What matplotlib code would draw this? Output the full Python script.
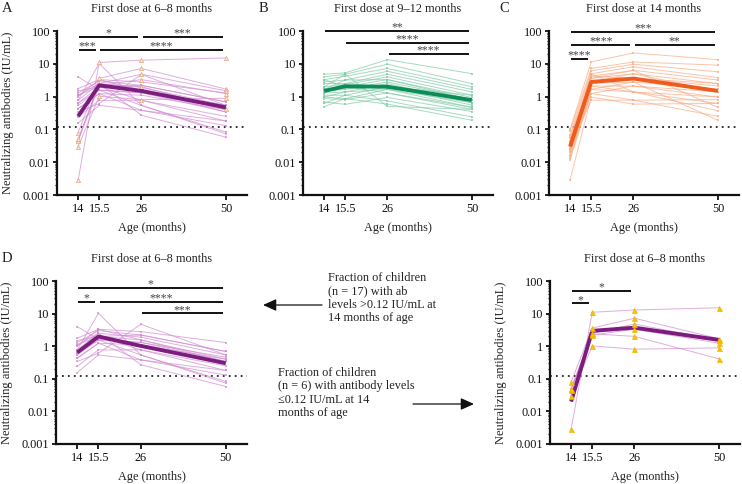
import numpy as np
import matplotlib
matplotlib.use("Agg")
import matplotlib.pyplot as plt
from matplotlib.patches import FancyArrowPatch

plt.rcParams['font.family'] = ['Liberation Serif', 'DejaVu Serif']
plt.rcParams['text.color'] = '#222222'
plt.rcParams['axes.labelcolor'] = '#222222'
plt.rcParams['xtick.color'] = '#111111'
plt.rcParams['ytick.color'] = '#111111'

# ---------------- data ----------------
timepoints = ["14", "15.5", "26", "50"]
time_pos = [0, 1, 3, 7]

# children with first dose at 6-8 months, ab > 0.12 IU/mL at 14 months (n=17)
d_children = [
    [4.0, 1.6, 1.3, 0.46],
    [1.76, 3.3, 2.8, 1.29],
    [0.77, 10.2, 0.54, 0.083],
    [1.29, 3.0, 2.2, 0.69],
    [1.10, 2.5, 1.89, 0.54],
    [0.64, 2.0, 1.56, 0.40],
    [0.54, 1.56, 1.32, 0.34],
    [0.43, 1.23, 1.10, 0.40],
    [0.34, 0.61, 4.7, 0.54],
    [0.24, 0.77, 0.77, 0.18],
    [0.155, 0.54, 0.38, 0.13],
    [1.49, 2.0, 0.77, 0.25],
    [0.64, 1.56, 0.54, 0.074],
    [0.77, 2.5, 0.27, 0.058],
    [1.0, 3.3, 1.56, 0.34],
    [0.43, 1.23, 0.38, 0.18],
    [1.1, 2.0, 2.2, 0.69],
]
# children with first dose at 6-8 months, ab <= 0.12 IU/mL at 14 months (n=6)
e_children = [
    [0.0028, 11.0, 12.9, 15.1],
    [0.079, 3.6, 7.2, 1.7],
    [0.049, 2.5, 4.8, 1.5],
    [0.044, 2.2, 3.3, 1.24],
    [0.030, 1.02, 0.81, 0.89],
    [0.050, 2.4, 2.0, 0.41],
]
# first dose at 9-12 months
b_children = [
    [4.8, 5.3, 13.4, 5.0],
    [4.0, 4.8, 9.7, 2.5],
    [3.3, 4.2, 7.2, 2.0],
    [2.8, 3.2, 5.9, 1.66],
    [2.5, 2.5, 4.8, 1.39],
    [2.0, 2.3, 4.0, 1.10],
    [1.66, 2.0, 3.3, 0.94],
    [1.49, 1.66, 2.8, 0.81],
    [1.29, 1.39, 2.5, 0.65],
    [1.10, 1.10, 2.0, 0.55],
    [0.97, 0.87, 1.66, 0.47],
    [0.87, 0.81, 1.29, 0.41],
    [0.69, 0.58, 0.94, 0.35],
    [0.62, 1.10, 0.74, 0.24],
    [0.49, 0.87, 0.59, 0.19],
    [2.0, 4.8, 0.50, 0.41],
    [1.29, 2.5, 2.0, 1.10],
    [3.3, 2.0, 1.29, 0.47],
    [0.97, 1.39, 1.66, 0.65],
    [1.66, 3.2, 3.3, 0.81],
]
# first dose at 14 months
c_children = [
    [0.10, 11.4, 21.4, 13.4],
    [0.09, 7.2, 11.4, 9.1],
    [0.067, 6.1, 9.7, 5.7],
    [0.053, 5.0, 8.1, 3.8],
    [0.042, 4.2, 6.3, 3.2],
    [0.033, 3.6, 5.0, 2.5],
    [0.026, 2.8, 3.6, 2.1],
    [0.021, 2.5, 2.8, 1.66],
    [0.017, 2.1, 2.1, 1.39],
    [0.013, 1.66, 1.39, 0.97],
    [0.012, 1.24, 0.78, 0.81],
    [0.0029, 0.97, 0.59, 0.62],
    [0.030, 0.78, 0.78, 0.25],
    [0.045, 3.6, 6.3, 0.47],
    [0.024, 2.1, 1.39, 0.37],
    [0.016, 1.66, 2.8, 0.19],
    [0.035, 4.2, 3.6, 2.5],
    [0.060, 2.8, 5.0, 1.39],
    [0.020, 1.24, 2.1, 0.97],
    [0.028, 5.0, 1.39, 0.62],
]
# geometric mean titres
gmt_a = [0.25, 2.2, 1.49, 0.47]
gmt_b = [1.49, 2.05, 2.0, 0.78]
gmt_c = [0.030, 2.8, 3.55, 1.49]
gmt_d = [0.64, 1.98, 1.02, 0.30]
gmt_e = [0.020, 2.95, 3.7, 1.56]

threshold = 0.12

# significance brackets: (from index, to index, label, height)
sig_a = [(0, 2, "*", 65), (2, 3, "***", 65), (0, 1, "***", 26), (1, 3, "****", 26)]
sig_b = [(0, 3, "**", 102), (1, 3, "****", 44), (2, 3, "****", 20.4)]
sig_c = [(0, 3, "***", 93), (0, 2, "****", 38), (2, 3, "**", 38), (0, 1, "****", 14.4)]
sig_d = [(0, 3, "*", 60), (0, 1, "*", 23.3), (1, 3, "****", 23.3), (2, 3, "***", 10.2)]
sig_e = [(0, 2, "*", 50), (0, 1, "*", 20.7)]

titles = ["First dose at 6\u20138 months", "First dose at 9\u201312 months",
          "First dose at 14 months", "First dose at 6\u20138 months",
          "First dose at 6\u20138 months"]
ylabel = "Neutralizing antibodies (IU/mL)"
xlabel = "Age (months)"

note_hi = "Fraction of children\n(n = 17) with ab\nlevels >0.12 IU/mL at\n14 months of age"
note_lo = "Fraction of children\n(n = 6) with antibody levels\n\u22640.12 IU/mL at 14\nmonths of age"

# ---------------- colours ----------------
purple_thin, purple_thick = '#D08CD0', '#7B1C7E'
green_thin, green_thick = '#80CAA8', '#0B8C57'
orange_thin, orange_thick = '#F8AC84', '#EE5B1C'

W, H = 742, 484
fig = plt.figure(figsize=(W / 100, H / 100), dpi=100)


def px_axes(left, top, width, height):
    return fig.add_axes([left / W, 1 - (top + height) / H, width / W, height / H])


def style(ax, title, show_ylabel):
    ax.set_yscale('log')
    ax.set_ylim(0.001, 100)
    ax.set_xlim(-1, 8)
    ax.set_xticks(time_pos)
    ax.set_xticklabels(timepoints)
    ax.set_yticks([0.001, 0.01, 0.1, 1, 10, 100])
    ax.set_yticklabels(["0.001", "0.01", "0.1", "1", "10", "100"])
    ax.yaxis.set_minor_locator(matplotlib.ticker.LogLocator(base=10, subs=np.arange(2, 10)))
    ax.yaxis.set_minor_formatter(matplotlib.ticker.NullFormatter())
    for s in ['top', 'right']:
        ax.spines[s].set_visible(False)
    for s in ['left', 'bottom']:
        ax.spines[s].set_linewidth(1.6)
        ax.spines[s].set_color('#111111')
    ax.tick_params(axis='y', which='major', length=3, width=1.3, pad=2, labelsize=8.8)
    ax.tick_params(axis='y', which='minor', length=1.8, width=0.9)
    ax.tick_params(axis='x', which='major', length=3.5, width=1.3, pad=2, labelsize=8.8)
    ax.tick_params(axis='x', which='minor', length=0)
    ax.set_xlabel(xlabel, fontsize=8.8)
    ax.xaxis.set_label_coords(0.5, -33 / 164)
    ax.xaxis.label.set_va('center')
    if show_ylabel:
        ax.set_ylabel(ylabel, fontsize=9)
        ax.yaxis.set_label_coords(-49 / 190, 0.5)
        ax.yaxis.label.set_va('center')
    ax.set_title(title, fontsize=8.8, y=1 + 22 / 164, pad=0, va='center', color='#222222')
    ax.axhline(threshold, color='#222222', lw=1.3, ls=(0, (1, 2.3)), zorder=1)
    ax.patch.set_alpha(0)


def draw_children(ax, children, color, tri=None, ms=3.2):
    for ch in children:
        if tri is None:
            ax.plot(time_pos, ch, color=color, lw=0.7, alpha=0.7, marker='s', ms=1.6,
                    mew=0, zorder=2)
        else:
            ax.plot(time_pos, ch, color=color, lw=0.7, alpha=0.7, zorder=2)
            ax.plot(time_pos, ch, ls='none', marker='^', ms=ms, mfc=tri[0], mec=tri[1],
                    mew=0.5, zorder=4)


def draw_sig(ax, sig):
    for i, j, lab, yv in sig:
        x0 = time_pos[i] + 0.05
        x1 = time_pos[j] - 0.15
        ax.plot([x0, x1], [yv, yv], color='#111111', lw=1.4, clip_on=False,
                solid_capstyle='butt', zorder=5)
        ax.text((x0 + x1) / 2, yv * 1.03, lab, ha='center', va='baseline',
                fontsize=8.5, color='#444444', clip_on=False, zorder=5)


# Panel A
axA = px_axes(57, 31, 190, 164)
style(axA, titles[0], True)
draw_children(axA, d_children, purple_thin)
draw_children(axA, e_children, purple_thin, tri=('#FBE6D6', '#E9A27A'), ms=3.0)
axA.plot(time_pos, gmt_a, color=purple_thick, lw=2.8, zorder=6, solid_capstyle='butt')
draw_sig(axA, sig_a)

# Panel B
axB = px_axes(303, 31, 190, 164)
style(axB, titles[1], False)
draw_children(axB, b_children, green_thin)
axB.plot(time_pos, gmt_b, color=green_thick, lw=2.8, zorder=6, solid_capstyle='butt')
draw_sig(axB, sig_b)

# Panel C
axC = px_axes(549, 31, 190, 164)
style(axC, titles[2], False)
draw_children(axC, c_children, orange_thin)
axC.plot(time_pos, gmt_c, color=orange_thick, lw=2.8, zorder=6, solid_capstyle='butt')
draw_sig(axC, sig_c)

# Panel D
axD = px_axes(56, 281, 191, 163)
style(axD, titles[3], True)
draw_children(axD, d_children, purple_thin)
axD.plot(time_pos, gmt_d, color=purple_thick, lw=2.8, zorder=6, solid_capstyle='butt')
draw_sig(axD, sig_d)

# Panel E
axE = px_axes(550, 281, 190, 163)
style(axE, titles[4], True)
draw_children(axE, e_children, purple_thin, tri=('#F5C400', '#EBB400'), ms=3.6)
axE.plot(time_pos, gmt_e, color=purple_thick, lw=2.8, zorder=3, solid_capstyle='butt')
draw_sig(axE, sig_e)

# Panel letters
for lab, x, y in [("A", 2, 9), ("B", 259, 9), ("C", 499, 9), ("D", 2, 259)]:
    fig.text(x / W, 1 - y / H, lab, fontsize=10.5, ha='left', va='center', color='#222222')

# Annotations
fig.text(328 / W, 1 - 272 / H, note_hi, fontsize=8.8, ha='left', va='top', linespacing=1.15)
fig.text(278 / W, 1 - 367 / H, note_lo, fontsize=8.8, ha='left', va='top', linespacing=1.15)

for (x0, y0, x1, y1) in [(322, 305, 263, 305), (413, 404, 474, 404)]:
    arr = FancyArrowPatch((x0 / W, 1 - y0 / H), (x1 / W, 1 - y1 / H),
                          transform=fig.transFigure,
                          arrowstyle='-|>,head_length=8,head_width=3.6',
                          color='#111111', lw=0.9, shrinkA=0, shrinkB=0)
    fig.patches.append(arr)

fig.savefig("out.png", dpi=100)
